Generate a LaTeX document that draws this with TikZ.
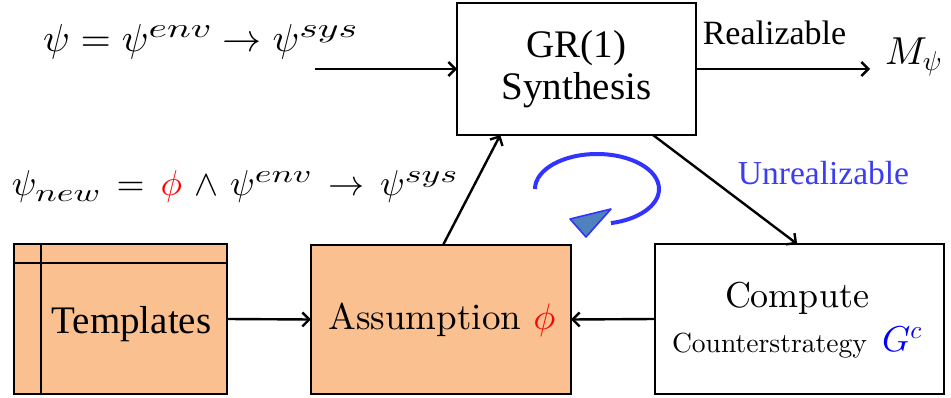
\documentclass[tikz,border=0pt]{standalone}
\usepackage{fontspec}
\usepackage{graphicx}
\DeclareFontShape{OML}{cmm}{m}{it}{<->cmmi10}{}
\DeclareFontShape{OMS}{cmsy}{m}{n}{<->cmsy10}{}
\DeclareFontShape{OT1}{cmr}{m}{n}{<->cmr10}{}
\newfontfamily\timesf{Liberation Serif}
\newfontfamily\cmten{lmroman10-regular}[Extension=.otf]
\usetikzlibrary{arrows.meta,calc}
\definecolor{orangefill}{RGB}{250,192,144}
\definecolor{loopblue}{RGB}{51,51,255}
\definecolor{txtblue}{RGB}{60,60,240}
\definecolor{steel}{RGB}{79,129,189}
\newcommand{\supA}[1]{\scalebox{1.45}[1]{$\scriptstyle #1$}}
\newcommand{\supB}[1]{\scalebox{1.42}[1]{$\scriptstyle #1$}}
\begin{document}
\begin{tikzpicture}[x=1pt,y=-1pt,
  box/.style={draw=black,line width=2.4pt,inner sep=0pt,outer sep=0pt},
  conn/.style={line width=2.4pt,-{Straight Barb[length=7pt,width=14pt,line width=2.4pt]}},
  txt/.style={inner sep=0pt,outer sep=0pt,anchor=base}]
\useasboundingbox (0,0) rectangle (951,398);
% boxes
\node[box,minimum width=239pt,minimum height=132pt,align=center,
  font=\timesf\fontsize{39}{42}\selectfont] (gr) at (576.5,69) {GR(1)\\Synthesis};
\node[box,fill=orangefill,minimum width=213pt,minimum height=150pt] (templates) at (120.5,319) {};
\node[box,fill=orangefill,minimum width=260pt,minimum height=149pt] (assume) at (441,319.5) {};
\node[box,minimum width=289pt,minimum height=150pt] (compute) at (799.5,319) {};
% templates inner lines
\draw[line width=2.4pt] ($(templates.north west)+(27,0)$) -- ($(templates.south west)+(27,0)$);
\draw[line width=2.4pt] ($(templates.north west)+(0,19)$) -- ($(templates.north east)+(0,19)$);
% texts
\node[txt,font=\timesf\fontsize{39}{42}\selectfont] (templtext) at (131.5,333) {Templates};
\node[txt,font=\cmten\fontsize{37}{40}\selectfont] (assumetext) at (442,329) {Assumption {\color{red}$\phi$}};
\node[txt,font=\cmten\fontsize{36}{40}\selectfont] (comp1) at (797,308) {Compute};
\node[txt,anchor=base west] (comp2) at (672,352) {\resizebox{195pt}{!}{\cmten Counterstrategy}};
\node[txt,anchor=base west,font=\fontsize{36}{40}\selectfont,text=blue] (gc) at (882,352) {$G^c$};
\node[txt,font=\timesf\fontsize{34}{36}\selectfont] (real) at (774.5,45) {Realizable};
\node[txt,font=\timesf\fontsize{33.5}{36}\selectfont,text=txtblue] (unreal) at (823.5,185) {Unrealizable};
\node[txt,anchor=base west,font=\fontsize{39}{42}\selectfont] (mpsi) at (885,65) {$M_\psi$};
\node[txt,anchor=base west,font=\fontsize{39}{42}\selectfont] (f1) at (43,52)
  {$\psi=\psi^{\supA{env}}\rightarrow\psi^{\supA{sys}}$};
\node[txt,anchor=base west,font=\fontsize{36}{40}\selectfont] (f2) at (12,196)
  {$\thickmuskip=8mu \medmuskip=6mu \psi_{\supB{new}}={\color{red}\phi}\wedge\psi^{\supB{env}}\rightarrow\psi^{\supB{sys}}$};
% connectors
\coordinate (inA) at (315,69);
\coordinate (outB) at (870,69);
\draw[conn] (inA) -- (gr.west);
\draw[conn] (gr.east) -- (outB);
\draw[conn] ($(assume.north west)!0.508!(assume.north east)$) -- ($(gr.south west)!0.181!(gr.south east)$);
\draw[conn] ($(gr.south west)!0.82!(gr.south east)$) -- ($(compute.north west)!0.492!(compute.north east)$);
\draw[conn] (templates.east) -- (assume.west);
\draw[conn] (compute.west) -- (assume.east);
% blue loop
\draw[loopblue,line width=4pt] (535,189) arc[start angle=180,end angle=437,x radius=62,y radius=35];
\filldraw[fill=steel,draw=loopblue,line width=1.6pt,line join=round] (570,219) -- (611,209) -- (586,237) -- cycle;
\end{tikzpicture}
\end{document}
